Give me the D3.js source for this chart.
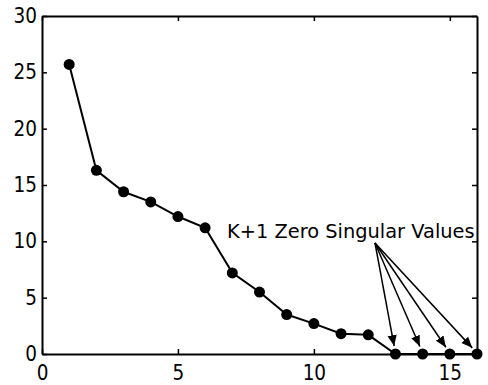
<!DOCTYPE html>
<html>
<head>
<meta charset="utf-8">
<script src="https://cdn.jsdelivr.net/npm/d3@7"></script>
<style>
  body { margin: 0; background: #fff; }
  svg { display: block; }
  .tick text { font-family: "DejaVu Sans Condensed", "DejaVu Sans", sans-serif; }
</style>
</head>
<body>
<div id="chart"></div>
<script>
// singular value index and magnitude
const indices = [1, 2, 3, 4, 5, 6, 7, 8, 9, 10, 11, 12, 13, 14, 15, 16];
const values = [25.7, 16.3, 14.4, 13.5, 12.2, 11.2, 7.2, 5.5, 3.5, 2.7, 1.8, 1.7, 0, 0, 0, 0];
const xTicks = [0, 5, 10, 15];
const yTicks = [0, 5, 10, 15, 20, 25, 30];
const labelText = "K+1 Zero Singular Values";
const arrowTargets = [13, 14, 15, 16];

const width = 488, height = 385;
const margin = { top: 16, right: 11, bottom: 31, left: 42 };

const svg = d3.select("#chart").append("svg")
    .attr("width", width)
    .attr("height", height);

const x = d3.scaleLinear().domain([0, 16]).range([margin.left, width - margin.right]);
const y = d3.scaleLinear().domain([0, 30]).range([height - margin.bottom, margin.top]);

// arrowhead
svg.append("defs").append("marker")
    .attr("id", "head")
    .attr("viewBox", "0 0 10 10")
    .attr("refX", 10).attr("refY", 5)
    .attr("markerWidth", 11).attr("markerHeight", 11)
    .attr("markerUnits", "userSpaceOnUse")
    .attr("orient", "auto")
  .append("path")
    .attr("d", "M0,0.8L10,5L0,9.2Z")
    .attr("fill", "#000");

// axes (ticks point inward, mirrored on top/right)
const fontSize = 20.5;
const bottomAxis = svg.append("g")
    .attr("transform", `translate(0,${y(0)})`)
    .call(d3.axisBottom(x).tickValues(xTicks).tickSize(-5).tickPadding(11).tickSizeOuter(0));
const topAxis = svg.append("g")
    .attr("transform", `translate(0,${y(30)})`)
    .call(d3.axisTop(x).tickValues(xTicks).tickSize(-5).tickFormat("").tickSizeOuter(0));
const leftAxis = svg.append("g")
    .attr("transform", `translate(${x(0)},0)`)
    .call(d3.axisLeft(y).tickValues(yTicks).tickSize(-5).tickPadding(5).tickSizeOuter(0));
const rightAxis = svg.append("g")
    .attr("transform", `translate(${x(16)},0)`)
    .call(d3.axisRight(y).tickValues(yTicks).tickSize(-5).tickFormat("").tickSizeOuter(0));

[bottomAxis, topAxis, leftAxis, rightAxis].forEach(g => {
    g.select(".domain").attr("stroke", "#000").attr("stroke-width", 2);
    g.selectAll(".tick line").attr("stroke", "#000").attr("stroke-width", 1.5);
    g.selectAll(".tick text").attr("font-size", fontSize).attr("fill", "#000");
});

// data line and markers
const data = indices.map((d, i) => ({ i: d, v: values[i] }));

svg.append("path")
    .datum(data)
    .attr("fill", "none")
    .attr("stroke", "#000")
    .attr("stroke-width", 2)
    .attr("d", d3.line().x(d => x(d.i)).y(d => y(d.v)));

svg.selectAll(".pt")
    .data(data)
    .join("circle")
    .attr("class", "pt")
    .attr("cx", d => x(d.i))
    .attr("cy", d => y(d.v))
    .attr("r", 5.5)
    .attr("fill", "#000");

// annotation
svg.append("text")
    .attr("x", 227)
    .attr("y", 238)
    .attr("font-family", "DejaVu Sans, Verdana, sans-serif")
    .attr("font-size", 19.4)
    .attr("fill", "#000")
    .text(labelText);

const origin = [375, 243];
svg.selectAll(".arrow")
    .data(arrowTargets)
    .join("line")
    .attr("class", "arrow")
    .attr("x1", origin[0])
    .attr("y1", origin[1])
    .attr("x2", d => {
        const tx = x(d), ty = y(0) - 1;
        const dx = tx - origin[0], dy = ty - origin[1], len = Math.hypot(dx, dy);
        return tx - dx / len * 7;
    })
    .attr("y2", d => {
        const tx = x(d), ty = y(0) - 1;
        const dx = tx - origin[0], dy = ty - origin[1], len = Math.hypot(dx, dy);
        return ty - dy / len * 7;
    })
    .attr("stroke", "#000")
    .attr("stroke-width", 1.5)
    .attr("marker-end", "url(#head)");
</script>
</body>
</html>
